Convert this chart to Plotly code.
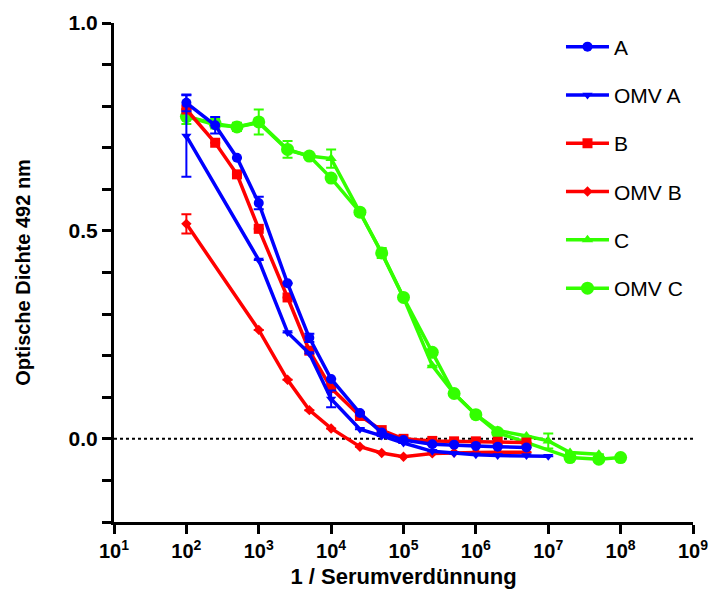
import plotly.graph_objects as go

# ---- data ----
x_A = [1e2, 2.5e2, 5e2, 1e3, 2.5e3, 5e3, 1e4, 2.5e4, 5e4, 1e5, 2.5e5, 5e5, 1e6, 2e6, 5e6]
y_A = [0.808, 0.754, 0.676, 0.567, 0.374, 0.243, 0.144, 0.062, 0.015, -0.003, -0.013, -0.014, -0.017, -0.019, -0.021]
e_A = [0.02, 0.02, 0.0, 0.015, 0.0, 0.01, 0.0, 0.0, 0.0, 0.0, 0.0, 0.0, 0.0, 0.0, 0.0]

x_OA = [1e2, 1e3, 2.5e3, 5e3, 1e4, 2.5e4, 5e4, 1e5, 2.5e5, 5e5, 1e6, 2e6, 5e6, 1e7]
y_OA = [0.728, 0.43, 0.256, 0.205, 0.096, 0.023, 0.007, -0.01, -0.03, -0.035, -0.038, -0.04, -0.04, -0.042]
e_OA = [0.098, 0.0, 0.0, 0.0, 0.02, 0.0, 0.0, 0.0, 0.0, 0.0, 0.0, 0.0, 0.0, 0.0]

x_B = [1e2, 2.5e2, 5e2, 1e3, 2.5e3, 5e3, 1e4, 2.5e4, 5e4, 1e5, 2.5e5, 5e5, 1e6, 2e6, 5e6]
y_B = [0.792, 0.712, 0.636, 0.505, 0.34, 0.212, 0.122, 0.055, 0.021, 0.0, -0.005, -0.006, -0.006, -0.007, -0.009]
e_B = [0.0] * 15

x_OB = [1e2, 1e3, 2.5e3, 5e3, 1e4, 2.5e4, 5e4, 1e5, 2.5e5, 5e5, 1e6, 2e6, 5e6]
y_OB = [0.517, 0.262, 0.142, 0.069, 0.025, -0.019, -0.034, -0.043, -0.035, -0.033, -0.033, -0.032, -0.032]
e_OB = [0.023] + [0.0] * 12

x_C = [1e2, 2.5e2, 5e2, 1e3, 2.5e3, 5e3, 1e4, 2.5e4, 5e4, 1e5, 2.5e5, 5e5, 1e6, 2e6, 5e6, 1e7, 2e7, 5e7]
y_C = [0.775, 0.755, 0.75, 0.76, 0.695, 0.68, 0.674, 0.545, 0.447, 0.34, 0.176, 0.109, 0.058, 0.02, 0.007, -0.005, -0.033, -0.037]
e_C = [0.0, 0.0, 0.0, 0.0, 0.0, 0.0, 0.022, 0.008, 0.012, 0.0, 0.0, 0.0, 0.0, 0.0, 0.0, 0.018, 0.0, 0.0]

x_OC = [1e2, 2.5e2, 5e2, 1e3, 2.5e3, 5e3, 1e4, 2.5e4, 5e4, 1e5, 2.5e5, 5e5, 1e6, 2e6, 2e7, 5e7, 1e8]
y_OC = [0.775, 0.758, 0.75, 0.762, 0.696, 0.68, 0.627, 0.545, 0.447, 0.34, 0.208, 0.109, 0.058, 0.015, -0.045, -0.049, -0.045]
e_OC = [0.018, 0.012, 0.01, 0.03, 0.02, 0.0, 0.0, 0.0, 0.0, 0.0, 0.0, 0.0, 0.0, 0.0, 0.0, 0.0, 0.0]

BLUE = "#0000ff"
RED = "#ff0000"
GREEN = "#33ff00"

series = [
    ("OMV C", x_OC, y_OC, e_OC, GREEN, "circle", 13, 6),
    ("C", x_C, y_C, e_C, GREEN, "triangle-up", 10, 5),
    ("OMV B", x_OB, y_OB, e_OB, RED, "diamond", 8, 4),
    ("B", x_B, y_B, e_B, RED, "square", 10, 3),
    ("OMV A", x_OA, y_OA, e_OA, BLUE, "triangle-down", 9, 2),
    ("A", x_A, y_A, e_A, BLUE, "circle", 10, 1),
]

fig = go.Figure()
for name, xs, ys, es, col, sym, sz, rank in series:
    fig.add_trace(go.Scatter(
        x=xs, y=ys, name=name, mode="lines+markers",
        line=dict(color=col, width=3.5),
        marker=dict(color=col, symbol=sym, size=sz),
        error_y=dict(type="data", array=es, visible=True, color=col, thickness=2, width=5),
        legendgroup=name, legendrank=rank,
    ))

fig.add_shape(type="line", xref="paper", yref="y", x0=0, x1=1, y0=0, y1=0,
              line=dict(color="black", width=2, dash="dot"), layer="below")

FAM = "Liberation Sans, Arial, sans-serif"
xtick_font = dict(family=FAM, size=20, color="black", weight="bold")
ytick_font = dict(family=FAM, size=21, color="black", weight="bold")

fig.update_layout(
    width=709, height=594,
    margin=dict(l=114, r=16, t=23, b=72, autoexpand=False),
    paper_bgcolor="white", plot_bgcolor="white",
    showlegend=True,
    legend=dict(x=0.772, y=0.993, xanchor="left", yanchor="top",
                font=dict(family=FAM, size=21, color="black"),
                bgcolor="rgba(0,0,0,0)", tracegroupgap=18, itemwidth=43),
    xaxis=dict(type="log", range=[1, 9], showgrid=False, zeroline=False, automargin=False,
               tickvals=[10 ** k for k in range(1, 10)],
               ticktext=["10<sup>%d</sup>" % k for k in range(1, 10)],
               ticklabeloverflow="allow",
               ticks="outside", ticklen=9, tickwidth=3, tickcolor="black",
               showline=True, linecolor="black", linewidth=3,
               tickfont=xtick_font,
               title=dict(text="1 / Serumverdünnung", font=dict(family=FAM, size=22, color="black", weight="bold"), standoff=8)),
    yaxis=dict(range=[-0.2, 1.0], showgrid=False, zeroline=False, automargin=False,
               tickmode="linear", tick0=0, dtick=0.5, tickformat=".1f",
               ticks="outside", ticklen=9, tickwidth=3, tickcolor="black",
               minor=dict(dtick=0.1, tick0=0, ticks="outside", ticklen=9, tickwidth=3, tickcolor="black", showgrid=False),
               showline=True, linecolor="black", linewidth=3,
               tickfont=ytick_font,
               title=dict(text="Optische Dichte 492 nm", font=dict(family=FAM, size=20, color="black", weight="bold"), standoff=33)),
)

fig.write_html("out.html", config={"displayModeBar": False},
               post_script="document.body.style.margin='0';document.body.style.overflow='hidden';")
